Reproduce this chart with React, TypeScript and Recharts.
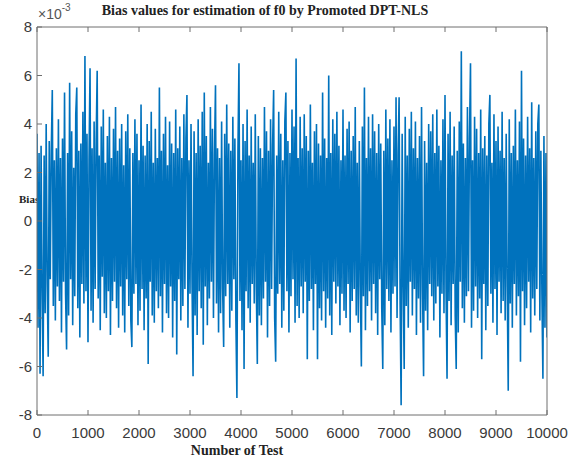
import React from "react";
import { LineChart, Line, XAxis, YAxis } from "recharts";

// bias values (x 10^-3), one every SAMPLE_STEP tests
const SAMPLE_STEP = 20;
const BIAS = [
  3.6, -4.4, 2.8, -6.3, 3.1, -2.9, -6.4, 2.7, -3.8, 4.0, -2.6, -5.6, 3.3, -2.4, 2.9, 5.4, -3.5, 2.5, -4.1, 3.0,
  -2.7, 4.2, -3.3, 2.6, -4.6, 3.4, -2.5, 5.3, -3.0, -5.3, 2.8, -3.9, 5.7, -2.4, 3.7, -4.3, 2.2, -3.1, 4.4, 5.5,
  -3.6, 2.9, -4.8, 3.2, -2.6, 4.5, -3.4, 6.8, -2.9, 3.6, -5.0, 2.5, 6.3, -3.7, 3.0, -4.2, 4.1, -2.8, 3.3, 6.2,
  -3.2, 2.7, -4.5, 3.9, -2.3, 4.6, -3.8, 2.4, -4.0, 3.5, -2.9, 4.3, -4.7, 2.6, -3.3, 3.8, -2.5, 4.7, -3.6, 2.9,
  -4.4, 3.4, -2.7, 4.0, -3.9, 2.3, -4.6, 3.7, -2.4, 4.4, -3.5, 3.0, -4.1, -5.2, 2.8, -3.0, 4.2, -2.6, 3.6, -4.3,
  2.5, -3.7, 4.8, -2.8, 3.1, -4.5, 2.7, -3.2, 4.0, -5.9, 3.3, -2.5, 4.5, -3.9, 2.4, -4.2, 3.8, -2.9, 2.6, -3.6,
  5.5, -3.1, 2.9, -4.6, 3.6, -2.6, 4.3, -3.8, 2.3, -4.0, 4.1, -2.7, 3.2, -4.8, 2.8, -3.3, 4.6, -5.5, 3.0, -2.4,
  3.9, -4.1, 2.6, -3.5, 4.4, -2.8, 3.4, 5.2, -4.4, 2.5, -3.0, 4.0, -2.6, -6.4, 3.7, -3.9, 2.8, -4.7, 4.2, -2.9,
  3.1, -3.6, 4.5, -5.1, 5.3, -2.7, 3.5, -4.3, 2.4, -3.2, 4.7, -2.5, 3.8, -4.0, 2.7, 5.6, -3.4, 3.0, -4.6, 2.6,
  -3.8, 4.1, -2.8, -5.2, 3.6, -3.1, 4.8, -2.6, 3.2, -4.4, 2.9, -3.7, 4.3, -2.4, 3.4, -4.1, -7.3, 2.8, 6.5, -3.3,
  2.5, -4.5, 4.0, -6.1, 3.3, -2.9, 4.6, -3.6, 2.7, -4.2, 3.9, -2.6, 2.4, -3.4, 4.4, -2.7, -5.9, 3.5, -3.9, 3.0,
  -4.3, 2.6, -3.2, 4.7, -2.5, 3.7, -4.8, 2.9, -3.5, 4.2, -2.8, 3.1, 5.4, -4.0, -5.8, 2.7, -3.0, 4.5, -2.6, 3.6,
  -4.4, 2.5, -3.7, 4.1, 5.3, -2.9, 3.3, -4.6, 2.8, -3.1, 4.6, -2.4, 3.9, -4.2, 6.7, -3.5, 2.6, -4.0, 4.3, -2.7,
  3.0, -3.8, 4.4, -2.5, 3.5, -5.7, 2.9, -3.3, 4.8, -2.8, 2.4, -4.5, 3.7, -2.6, 4.0, -5.7, 3.2, -3.6, 2.7, -4.1,
  5.3, -2.9, 3.4, -4.4, 2.6, -3.2, 6.0, -3.9, 2.8, -4.7, 4.2, -2.5, 3.6, -3.4, 4.5, -2.7, 3.1, -4.3, 2.5, -3.0,
  4.6, -3.7, 2.7, -4.0, 3.8, -2.6, 4.1, -4.6, 2.9, -3.3, 3.5, -2.8, 4.7, -3.9, 2.4, -4.2, 3.3, -2.7, -6.0, 3.9,
  -3.1, 5.5, -4.5, 2.6, -3.5, 4.3, -2.9, 3.0, -4.1, 4.4, -2.6, 3.7, -3.8, 2.8, -4.7, 4.0, -2.4, 3.2, -3.6, -6.1,
  2.9, -4.3, 4.6, -2.8, 3.4, -3.3, 4.2, -4.6, 2.5, -3.0, 3.9, -2.7, 5.1, -4.0, 2.8, 5.1, -3.4, -7.6, 3.6, -2.6,
  -6.1, 4.3, -3.5, 2.7, -4.4, 3.8, -2.5, 4.5, -3.9, 3.0, -2.8, 4.1, -4.7, 2.6, -3.2, 3.5, -4.2, 4.7, -2.9, -6.4,
  3.3, -3.7, 2.4, -4.5, 4.0, -2.6, 3.7, -3.1, 4.4, -4.1, 2.8, -3.4, 4.6, -2.7, 3.1, -4.8, 2.5, -3.0, 4.2, -3.8,
  5.2, -2.8, -6.5, 3.6, -3.3, 4.5, -4.3, 2.7, -2.6, 3.9, -3.9, -6.1, 2.9, -4.6, 4.1, -2.5, 7.0, -3.6, 3.2, -4.2,
  2.6, -3.1, 4.7, -2.9, 3.4, 6.5, -4.4, 2.5, -3.7, 4.3, -2.7, 3.8, -4.0, 2.8, -3.2, 4.6, -5.7, 3.0, -2.6, 3.5,
  -4.5, 2.7, -3.5, 4.0, 5.2, -3.0, 2.4, -4.2, 4.4, -2.8, 3.3, -4.7, 3.9, -2.5, 2.9, -3.8, 4.5, -3.3, 2.6, -4.1,
  3.6, -2.7, -7.0, 4.2, -3.4, 2.8, -4.4, 3.1, -2.6, 4.6, -3.9, 2.5, -3.1, 4.1, -5.8, 6.2, -2.9, 3.4, -4.3, 2.7,
  -3.6, 4.3, -2.5, 3.0, -4.6, 4.9, -3.2, 2.6, -3.9, 3.7, -2.8, 4.0, 4.8, -4.1, 2.9, -3.0, -6.5, 3.5, -4.4, 2.8,
  -4.8,
];

const X_TICKS = [0, 1000, 2000, 3000, 4000, 5000, 6000, 7000, 8000, 9000, 10000];
const Y_TICKS = [-8, -6, -4, -2, 0, 2, 4, 6, 8];

const AXIS = "#6e6e6e";
const TEXT = "#3a3a3a";
const BLUE = "#0072BD";

const data = BIAS.map((v, i) => ({ x: i * SAMPLE_STEP, bias: v }));

const serif = "'Liberation Serif', 'Times New Roman', serif";
const sans = "'Liberation Sans', Arial, sans-serif";

export default function App() {
  return (
    <div style={{ position: "absolute", left: 0, top: 0, width: 578, height: 462, background: "#fff" }}>
      {/* sits under the svg so the trace covers its tail, like the original */}
      <div
        style={{
          position: "absolute",
          left: 19,
          top: 193,
          fontFamily: serif,
          fontWeight: "bold",
          fontSize: 11,
          color: "#222",
        }}
      >
        Bias
      </div>
      <div
        style={{
          position: "absolute",
          left: 38,
          top: 4,
          fontFamily: sans,
          fontSize: 14,
          color: "#555",
        }}
      >
        ×10<sup style={{ fontSize: 10, position: "relative", top: -2 }}>-3</sup>
      </div>
      <div
        style={{
          position: "absolute",
          left: 0,
          width: 530,
          top: 3,
          textAlign: "center",
          fontFamily: serif,
          fontWeight: "bold",
          fontSize: 14,
          color: "#222",
        }}
      >
        Bias values for estimation of f0 by Promoted DPT-NLS
      </div>
      <div
        style={{
          position: "absolute",
          left: 0,
          width: 474,
          top: 443,
          textAlign: "center",
          fontFamily: serif,
          fontWeight: "bold",
          fontSize: 14,
          color: "#222",
        }}
      >
        Number of Test
      </div>
      <div style={{ position: "absolute", left: 0, top: 0 }}>
        <LineChart width={578} height={462} data={data} margin={{ top: 26, right: 30, bottom: 0, left: 0 }}>
          <XAxis
            dataKey="x"
            type="number"
            domain={[0, 10000]}
            ticks={X_TICKS}
            allowDataOverflow
            height={47}
            tickSize={-5}
            tickMargin={17}
            stroke={AXIS}
            tick={{ fill: TEXT, fontSize: 15, fontFamily: sans }}
            interval={0}
          />
          <XAxis
            xAxisId="top"
            orientation="top"
            dataKey="x"
            type="number"
            domain={[0, 10000]}
            ticks={X_TICKS}
            height={1}
            tickSize={-5}
            stroke={AXIS}
            tickFormatter={() => ""}
            interval={0}
          />
          <YAxis
            type="number"
            domain={[-8, 8]}
            ticks={Y_TICKS}
            allowDataOverflow
            width={37}
            tickSize={-5}
            tickMargin={10}
            stroke={AXIS}
            tick={{ fill: TEXT, fontSize: 15, fontFamily: sans }}
            interval={0}
          />
          <YAxis
            yAxisId="right"
            orientation="right"
            type="number"
            domain={[-8, 8]}
            ticks={Y_TICKS}
            width={1}
            tickSize={-5}
            stroke={AXIS}
            tickFormatter={() => ""}
            interval={0}
          />
          <Line
            type="linear"
            dataKey="bias"
            stroke={BLUE}
            strokeWidth={1.6}
            dot={false}
            activeDot={false}
            isAnimationActive={false}
          />
        </LineChart>
      </div>
    </div>
  );
}
